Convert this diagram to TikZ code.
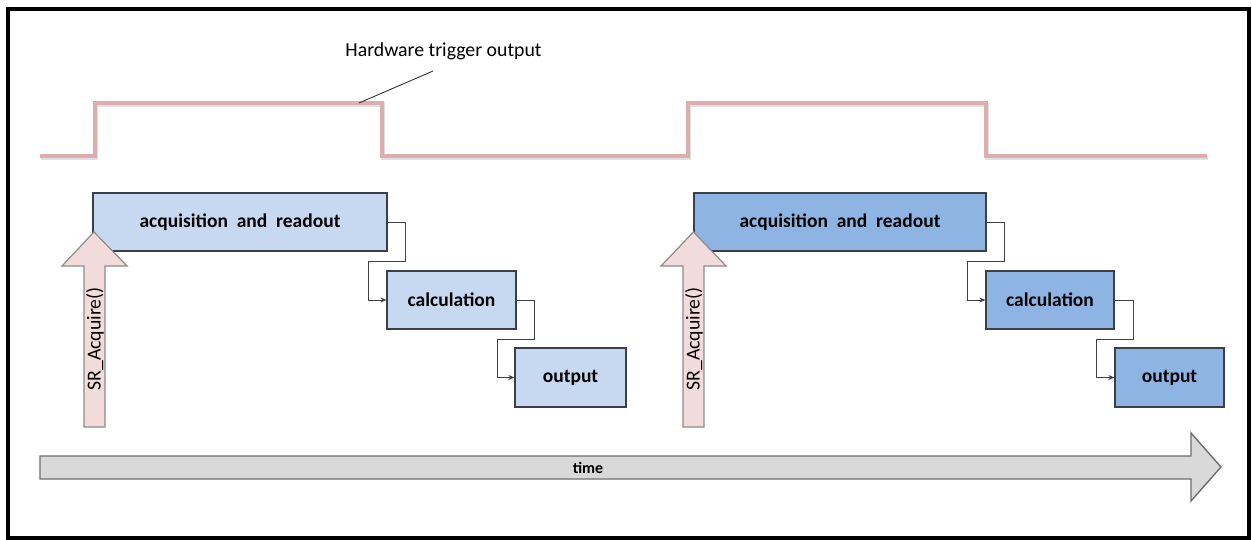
\documentclass[tikz,border=0pt]{standalone}
\usepackage{fontspec}
\setmainfont{Carlito}
\usetikzlibrary{arrows.meta}
\definecolor{boxA}{HTML}{C6D9F1}
\definecolor{boxB}{HTML}{8DB4E2}
\definecolor{boxline}{HTML}{3A3F48}
\definecolor{srfill}{HTML}{F2DCDB}
\definecolor{srline}{HTML}{8C8C8C}
\definecolor{timefill}{HTML}{D9D9D9}
\definecolor{timeline}{HTML}{6E6E6E}
\definecolor{pulsecol}{HTML}{DDAEAE}
\tikzset{
  procbox/.style={draw=boxline, line width=1.3pt, inner sep=0pt, font=\fontsize{19.5}{23}\selectfont\bfseries},
  conn/.style={draw=black!75, line width=1pt, -{Stealth[length=6pt,width=5pt]}},
  srarrow/.style={draw=srline, fill=srfill, line width=1.2pt, line join=miter},
  timearrow/.style={draw=timeline, fill=timefill, line width=1.4pt},
  pulse/.style={draw=pulsecol, line width=4pt, line join=miter},
  pulseshadow/.style={draw=black, opacity=0.12, line width=4pt},
  lbl/.style={font=\fontsize{19.8}{24}\selectfont, inner sep=0pt}
}
\begin{document}
\begin{tikzpicture}[x=1pt, y=-1pt]
\useasboundingbox (0,0) rectangle (1252,540);
\fill[white] (0,0) rectangle (1252,540);
% frame
\draw[line width=4pt] (8,9) rectangle (1249,538);

% pulse signal
\draw[pulseshadow, shift={(0.8,1.6)}] (40,156) -- (95,156) -- (95,103) -- (382,103) -- (382,156) -- (688,156) -- (688,103) -- (986,103) -- (986,156) -- (1207,156);
\draw[pulse] (40,156) -- (95,156) -- (95,103) -- (382,103) -- (382,156) -- (688,156) -- (688,103) -- (986,103) -- (986,156) -- (1207,156);

% label
\node[lbl, anchor=base] (hw) at (443.5,57) {Hardware trigger output};
\coordinate (hwa) at (433,71);
\coordinate (hwb) at (359,103);
\draw[black!80, line width=0.9pt] (hwa) -- (hwb);

% boxes
\node[procbox, fill=boxA, minimum width=294pt, minimum height=58pt] (A1) at (240,222) {acquisition\ \ and\ \ readout};
\node[procbox, fill=boxA, minimum width=129pt, minimum height=58pt] (C1) at (451.5,300) {calculation};
\node[procbox, fill=boxA, minimum width=111pt, minimum height=59pt] (O1) at (570.5,377.5) {output};
\node[procbox, fill=boxB, minimum width=292pt, minimum height=58pt] (A2) at (840,222) {acquisition\ \ and\ \ readout};
\node[procbox, fill=boxB, minimum width=128pt, minimum height=58pt] (C2) at (1050,300) {calculation};
\node[procbox, fill=boxB, minimum width=109pt, minimum height=59pt] (O2) at (1169.5,377.5) {output};

% connectors
\draw[conn] (A1.east) -- ++(18,0) -- ++(0,39) -- ++(-37,0) |- (C1.west);
\draw[conn] (C1.east) -- ++(18,0) -- ++(0,39) -- ++(-37,0) |- (O1.west);
\draw[conn] (A2.east) -- ++(18,0) -- ++(0,39) -- ++(-37,0) |- (C2.west);
\draw[conn] (C2.east) -- ++(19,0) -- ++(0,39) -- ++(-37,0) |- (O2.west);

% SR_Acquire arrows
\draw[srarrow] (84,427) -- (84,266) -- (62,266) -- (94,232) -- (127,266) -- (105,266) -- (105,427) -- cycle;
\node[lbl, rotate=90] (sr1) at (95,339) {SR\_Acquire()};
\draw[srarrow] (683,427) -- (683,266) -- (661,266) -- (693.5,232) -- (726,266) -- (704,266) -- (704,427) -- cycle;
\node[lbl, rotate=90] (sr2) at (694,339) {SR\_Acquire()};

% time arrow
\draw[timearrow] (40,456) -- (1191,456) -- (1191,433) -- (1221,467) -- (1191,501) -- (1191,479) -- (40,479) -- cycle;
\node[font=\fontsize{16}{19}\selectfont\bfseries, inner sep=0pt] (time) at (588,467.5) {time};
\end{tikzpicture}
\end{document}
